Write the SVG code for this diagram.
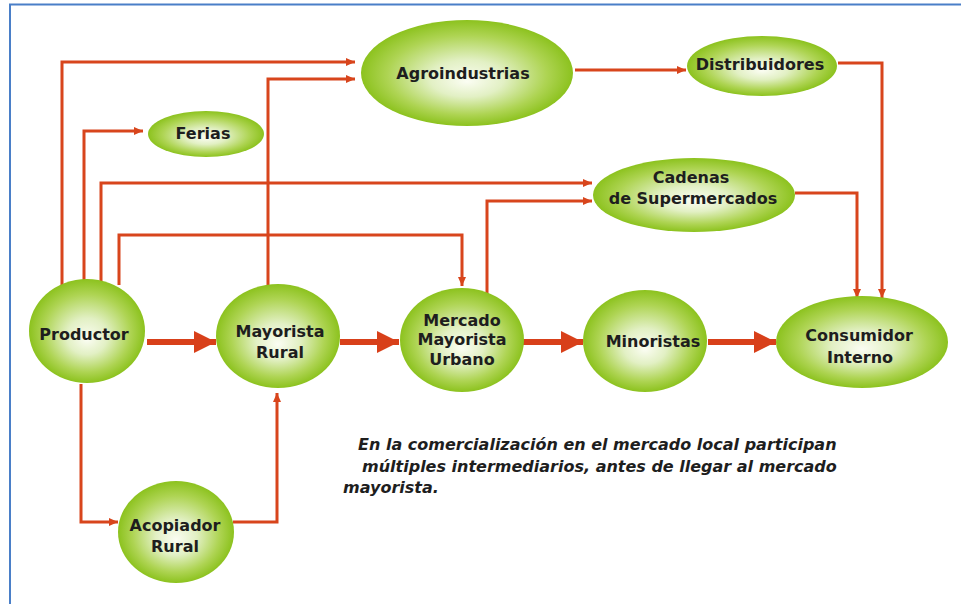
<svg xmlns="http://www.w3.org/2000/svg" width="961" height="604" viewBox="0 0 961 604">
<defs>
<radialGradient id="g" cx="0.5" cy="0.5" r="0.5" fx="0.5" fy="0.58">
<stop offset="0" stop-color="#fbfdf3"/>
<stop offset="0.35" stop-color="#e2f0c4"/>
<stop offset="0.75" stop-color="#aed453"/>
<stop offset="1" stop-color="#8cc21e"/>
</radialGradient>
<marker id="a" markerUnits="userSpaceOnUse" markerWidth="10" markerHeight="10" refX="9" refY="5" orient="auto">
<path d="M0,1 L9,5 L0,9 z" fill="#d8451c"/>
</marker>
<marker id="A" markerUnits="userSpaceOnUse" markerWidth="24" markerHeight="24" refX="22" refY="12" orient="auto">
<path d="M0,1 L22,12 L0,23 z" fill="#d8401a"/>
</marker>
</defs>
<style>
.n{fill:url(#g);}
.t{font-family:"DejaVu Sans",Verdana,sans-serif;font-weight:bold;font-size:16px;fill:#1e1e1e;text-anchor:middle;}
.c{fill:none;stroke:#d8451c;stroke-width:3;marker-end:url(#a);}
.k{fill:none;stroke:#d8401a;stroke-width:6;marker-end:url(#A);}
.cap{font-family:"DejaVu Sans",Verdana,sans-serif;font-weight:bold;font-style:italic;font-size:16px;fill:#1e1e1e;}
</style>
<rect width="961" height="604" fill="#ffffff"/>
<path d="M10,604 V4.5 H961" fill="none" stroke="#4a7fc8" stroke-width="2"/>

<g id="connectors">
<path class="c" d="M62,285 V62 H355"/>
<path class="c" d="M84,283 V131 H143"/>
<path class="c" d="M101,282 V183 H592"/>
<path class="c" d="M119,285 V235 H462 V286"/>
<path class="c" d="M268,286 V79 H355"/>
<path class="c" d="M487,296 V201 H592"/>
<path class="c" d="M575,70 H686"/>
<path class="c" d="M838,63 H882 V298"/>
<path class="c" d="M795,193 H857 V298"/>
<path class="c" d="M81,384 V522 H118"/>
<path class="c" d="M233,522 H277 V393"/>
<path class="k" d="M147,342 H216"/>
<path class="k" d="M340,342 H399"/>
<path class="k" d="M523,342 H583"/>
<path class="k" d="M708,342 H776"/>
</g>

<g id="agroindustrias"><ellipse class="n" cx="467" cy="73" rx="106" ry="53"/><text class="t" x="463" y="79">Agroindustrias</text></g>
<g id="distribuidores"><ellipse class="n" cx="762" cy="66" rx="75" ry="30"/><text class="t" x="760" y="70">Distribuidores</text></g>
<g id="ferias"><ellipse class="n" cx="206" cy="134" rx="58" ry="23"/><text class="t" x="203" y="139">Ferias</text></g>
<g id="cadenas"><ellipse class="n" cx="694" cy="195" rx="101" ry="37"/><text class="t" x="691" y="183">Cadenas</text><text class="t" x="693" y="204">de Supermercados</text></g>
<g id="productor"><ellipse class="n" cx="87" cy="331" rx="58" ry="52"/><text class="t" x="84" y="340">Productor</text></g>
<g id="mayorista-rural"><ellipse class="n" cx="278" cy="336" rx="62" ry="52"/><text class="t" x="280" y="337">Mayorista</text><text class="t" x="280" y="358">Rural</text></g>
<g id="mercado"><ellipse class="n" cx="462" cy="340" rx="62" ry="52"/><text class="t" x="462" y="326">Mercado</text><text class="t" x="462" y="345">Mayorista</text><text class="t" x="462" y="365">Urbano</text></g>
<g id="minoristas"><ellipse class="n" cx="645" cy="341" rx="62" ry="51"/><text class="t" x="653" y="347">Minoristas</text></g>
<g id="consumidor"><ellipse class="n" cx="862" cy="342" rx="86" ry="46"/><text class="t" x="859" y="341">Consumidor</text><text class="t" x="860" y="363">Interno</text></g>
<g id="acopiador"><ellipse class="n" cx="176" cy="532" rx="58" ry="51"/><text class="t" x="175" y="531">Acopiador</text><text class="t" x="175" y="552">Rural</text></g>

<g id="caption">
<text class="cap" x="358" y="450">En la comercialización en el mercado local participan</text>
<text class="cap" x="362" y="472">múltiples intermediarios, antes de llegar al mercado</text>
<text class="cap" x="343" y="493">mayorista.</text>
</g>
</svg>
